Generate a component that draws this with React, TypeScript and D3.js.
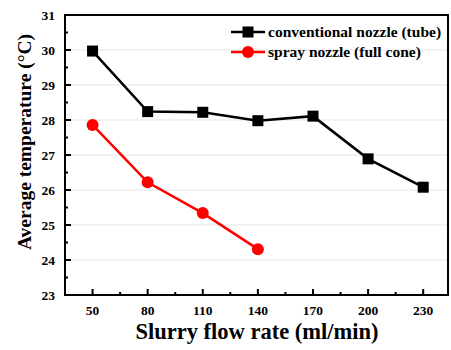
import React from "react";
import * as d3 from "d3";

// Slurry flow rate (ml/min)
const flowRates = [50, 80, 110, 140, 170, 200, 230];
const conventionalTemps = [29.97, 28.24, 28.22, 27.98, 28.11, 26.89, 26.08];
const sprayFlowRates = [50, 80, 110, 140];
const sprayTemps = [27.86, 26.22, 25.34, 24.31];
const yTicks = [23, 24, 25, 26, 27, 28, 29, 30, 31];
const seriesNames = ["conventional nozzle (tube)", "spray nozzle (full cone)"];

const W = 451;
const H = 350;
const left = 65;
const right = 448;
const top = 15;
const bottom = 295;
const FONT = "'Liberation Serif', 'Times New Roman', serif";

export default function App() {
  const x = d3.scaleLinear().domain([35, 243.5]).range([left, right]);
  const y = d3.scaleLinear().domain([23, 31]).range([bottom, top]);

  const line = d3
    .line<[number, number]>()
    .x((d) => x(d[0]))
    .y((d) => y(d[1]));

  const conv: [number, number][] = flowRates.map((f, i) => [f, conventionalTemps[i]]);
  const spray: [number, number][] = sprayFlowRates.map((f, i) => [f, sprayTemps[i]]);

  const minorX = flowRates.slice(0, -1).map((f, i) => (f + flowRates[i + 1]) / 2);
  const minorY = yTicks.slice(0, -1).map((t) => t + 0.5);

  const sq = 11;

  return (
    <svg
      width={W}
      height={H}
      style={{ position: "absolute", left: 0, top: 0, background: "#fff" }}
      fontFamily={FONT}
    >
      {/* horizontal grid */}
      {yTicks.slice(1, -1).map((t) => (
        <line key={"g" + t} x1={left} x2={right} y1={y(t)} y2={y(t)} stroke="#e4e4e4" strokeWidth={1} />
      ))}

      {/* frame */}
      <rect x={left} y={top} width={right - left} height={bottom - top} fill="none" stroke="#000" strokeWidth={2} />

      {/* x ticks (inward) */}
      {flowRates.map((f) => (
        <g key={"x" + f}>
          <line x1={x(f)} x2={x(f)} y1={bottom} y2={bottom - 6} stroke="#000" strokeWidth={2} />
          <text x={x(f)} y={315} textAnchor="middle" fontSize={13.5} fontWeight="bold">
            {f}
          </text>
        </g>
      ))}
      {minorX.map((f) => (
        <line key={"mx" + f} x1={x(f)} x2={x(f)} y1={bottom} y2={bottom - 3} stroke="#000" strokeWidth={2} />
      ))}

      {/* y ticks (inward) */}
      {yTicks.map((t) => (
        <g key={"y" + t}>
          <line x1={left} x2={left + 6} y1={y(t)} y2={y(t)} stroke="#000" strokeWidth={2} />
          <text x={55} y={y(t) + 4.5} textAnchor="end" fontSize={13.5} fontWeight="bold">
            {t}
          </text>
        </g>
      ))}
      {minorY.map((t) => (
        <line key={"my" + t} x1={left} x2={left + 3} y1={y(t)} y2={y(t)} stroke="#000" strokeWidth={2} />
      ))}

      {/* series */}
      <path d={line(conv) ?? ""} fill="none" stroke="#000" strokeWidth={2.5} />
      {conv.map((d, i) => (
        <rect key={"c" + i} x={x(d[0]) - sq / 2} y={y(d[1]) - sq / 2} width={sq} height={sq} fill="#000" />
      ))}
      <path d={line(spray) ?? ""} fill="none" stroke="#ff0000" strokeWidth={2.5} />
      {spray.map((d, i) => (
        <circle key={"s" + i} cx={x(d[0])} cy={y(d[1])} r={6} fill="#ff0000" />
      ))}

      {/* legend */}
      <g>
        <line x1={231} x2={265} y1={32} y2={32} stroke="#000" strokeWidth={2.5} />
        <rect x={248 - sq / 2} y={32 - sq / 2} width={sq} height={sq} fill="#000" />
        <text x={268} y={37} fontSize={15.5} fontWeight="bold">
          {seriesNames[0]}
        </text>
        <line x1={231} x2={265} y1={52} y2={52} stroke="#ff0000" strokeWidth={2.5} />
        <circle cx={248} cy={52} r={6} fill="#ff0000" />
        <text x={268} y={57} fontSize={15.5} fontWeight="bold">
          {seriesNames[1]}
        </text>
      </g>

      {/* axis titles */}
      <text x={257} y={339} textAnchor="middle" fontSize={22.5} fontWeight="bold">
        Slurry flow rate (ml/min)
      </text>
      <text
        transform={`translate(31,142) rotate(-90)`}
        textAnchor="middle"
        fontSize={19.5}
        fontWeight="bold"
      >
        Average temperature (°C)
      </text>
    </svg>
  );
}
